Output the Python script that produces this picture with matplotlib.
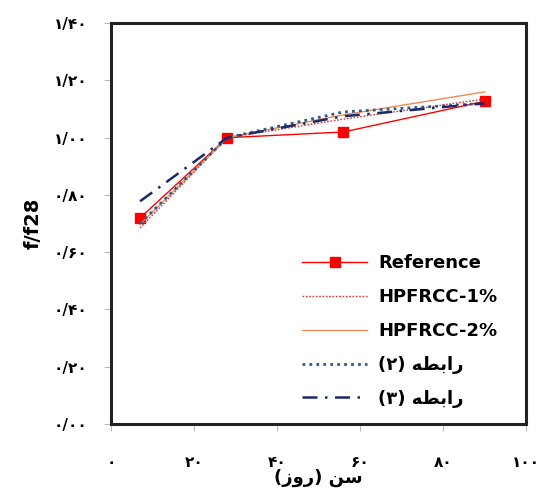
import matplotlib
matplotlib.use("Agg")
import matplotlib.pyplot as plt

# Persian text in visual (left to right) order, with presentation forms
FA = str.maketrans("0123456789", "۰۱۲۳۴۵۶۷۸۹")
RABETE = "\uFEEA\uFEC4\uFE91\uFE8D\uFEAD"
XLABEL = "(\uFEAF\uFEED\uFEAD) \uFEE6\uFEB3"

age = [7, 28, 56, 90]
ref_vals = [0.72, 1.00, 1.02, 1.127]
hp1_vals = [0.685, 1.00, 1.065, 1.135]
hp2_vals = [0.697, 1.00, 1.08, 1.16]
rel2_vals = [0.70, 1.00, 1.09, 1.12]
rel3_vals = [0.778, 1.00, 1.075, 1.12]

y_ticks = [0.0, 0.2, 0.4, 0.6, 0.8, 1.0, 1.2, 1.4]
x_ticks = [0, 20, 40, 60, 80, 100]
y_labels = [f"{v:.2f}".replace(".", "/").translate(FA) for v in y_ticks]
x_labels = [str(v).translate(FA) for v in x_ticks]

plt.rcParams['font.family'] = ['DejaVu Sans']

fig = plt.figure(figsize=(5.4, 4.9), dpi=100)
ax = fig.add_axes([0.2056, 0.1347, 0.7685, 0.818])

ax.plot(age, ref_vals, color='#ff0000', lw=1.0, marker='s', ms=7, label='Reference')
ax.plot(age, hp1_vals, color='#e0303a', lw=1.0, ls=(0, (1.2, 1.2)), label='HPFRCC-1%')
ax.plot(age, hp2_vals, color='#f08a50', lw=1.0, label='HPFRCC-2%')
ax.plot(age, rel2_vals, color='#2e5c8c', lw=2.0, ls=(0, (1, 1.5)), label=f"(۲) {RABETE}")
ax.plot(age, rel3_vals, color='#1a2a68', lw=1.8, ls=(0, (6, 3, 1, 3)), label=f"(۳) {RABETE}")

ax.set_xlim(0, 100)
ax.set_ylim(0, 1.4)
ax.set_xticks(x_ticks)
ax.set_xticklabels(x_labels, fontsize=11, fontweight='bold')
ax.set_yticks(y_ticks)
ax.set_yticklabels(y_labels, fontsize=11, fontweight='bold')
ax.tick_params(axis='x', direction='out', length=5, color='#bbbbbb', pad=17)
ax.tick_params(axis='y', direction='out', length=5, color='#bbbbbb', pad=12)

for s in ax.spines.values():
    s.set_linewidth(2.2)
    s.set_color('#222222')

ax.set_ylabel('f/f28', fontsize=14, fontweight='bold', labelpad=8)
ax.set_xlabel(XLABEL, fontsize=13, fontweight='bold')
ax.xaxis.set_label_coords(0.5, -0.112)

leg = ax.legend(loc='lower right', bbox_to_anchor=(0.97, 0.0), frameon=False,
                prop={'size': 13, 'weight': 'bold'}, handlelength=3.6,
                labelspacing=0.88, handletextpad=0.6)

fig.savefig('out.png', dpi=100)
